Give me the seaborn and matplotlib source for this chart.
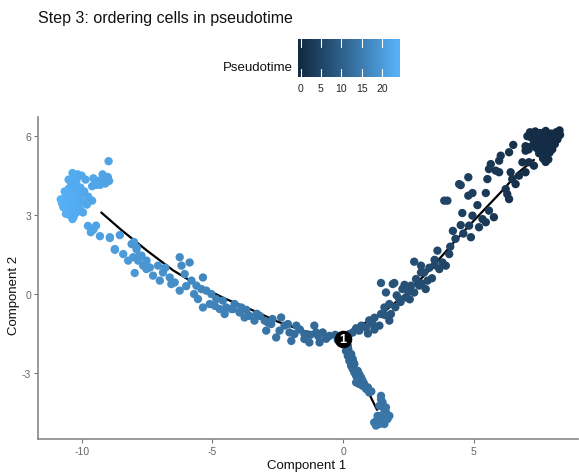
import numpy as np
import pandas as pd
import matplotlib
matplotlib.use("Agg")
import matplotlib.pyplot as plt
import seaborn as sns
from matplotlib.colors import LinearSegmentedColormap, Normalize

# ---------------- data (x, y, pseudotime) ----------------
root_cells = [
    (7.15, 6.15, 0.6), (7.35, 6.18, 0.4), (7.55, 6.12, 0.3), (7.75, 6.2, 0.2), (7.95, 6.1, 0.1),
    (8.15, 6.15, 0.0), (8.3, 6.05, 0.0), (7.2, 5.95, 0.6), (7.4, 5.9, 0.5), (7.6, 5.98, 0.3),
    (7.8, 5.92, 0.2), (8.0, 5.95, 0.1), (8.2, 5.88, 0.0), (7.3, 5.75, 0.6), (7.5, 5.7, 0.5),
    (7.7, 5.78, 0.3), (7.9, 5.72, 0.2), (8.1, 5.7, 0.1), (7.4, 5.55, 0.6), (7.6, 5.5, 0.5),
    (7.8, 5.58, 0.4), (8.0, 5.5, 0.3), (7.5, 5.35, 0.7), (7.7, 5.3, 0.6), (7.9, 5.38, 0.5),
    (7.65, 5.15, 0.8), (7.85, 5.12, 0.7), (7.75, 5.02, 0.9), (7.05, 6.0, 0.8), (6.98, 5.62, 1.1),
    (7.1, 5.5, 1.0), (8.28, 6.22, 0.0), (7.45, 6.05, 0.4), (7.65, 5.88, 0.3), (7.85, 5.8, 0.2),
    (8.05, 6.02, 0.1), (7.55, 5.62, 0.5), (7.75, 5.45, 0.5), (7.3, 6.08, 0.5), (7.95, 5.6, 0.3),
    (7.11, 5.58, 0.9), (6.98, 5.45, 1.0), (6.86, 5.01, 1.3), (7.11, 5.01, 1.1), (7.3, 4.88, 1.0),
]

right_branch_cells = [
    (6.51, 5.67, 1.4), (6.35, 5.39, 1.6), (6.03, 5.26, 2.0), (5.97, 5.07, 2.1), (5.65, 4.94, 2.6),
    (5.58, 4.75, 2.7), (5.84, 4.69, 2.3), (5.97, 4.63, 2.1), (5.52, 4.37, 2.8), (4.5, 4.14, 4.2),
    (4.79, 4.44, 3.8), (3.87, 3.55, 5.1), (3.99, 3.55, 4.9), (4.79, 3.74, 3.8), (4.95, 3.84, 3.6),
    (5.46, 3.84, 2.9), (5.14, 3.38, 3.3), (4.56, 3.08, 4.1), (4.95, 2.98, 3.6), (5.58, 3.17, 2.7),
    (5.77, 2.92, 2.4), (5.33, 2.85, 3.0), (4.5, 2.62, 4.2), (4.82, 2.6, 3.8), (5.2, 2.54, 3.2),
    (5.46, 2.73, 2.9), (4.89, 2.16, 3.7), (3.61, 1.65, 5.4), (4.06, 1.52, 4.8), (6.28, 3.8, 1.7),
    (6.35, 3.61, 1.6), (6.22, 3.99, 1.8), (6.6, 4.18, 1.3), (6.73, 4.5, 1.1), (6.98, 4.63, 0.7),
    (6.41, 4.63, 1.5), (6.47, 4.37, 1.4), (4.44, 4.18, 4.3), (2.72, 1.23, 6.7), (2.98, 1.08, 6.3),
    (3.1, 0.82, 6.2), (3.68, 0.95, 5.3), (3.8, 1.2, 5.2), (3.93, 1.08, 5.0), (3.16, 0.19, 6.1),
    (2.91, 0.32, 6.4), (2.72, 0.06, 6.7), (1.45, 0.42, 8.5), (1.96, 0.42, 7.8), (1.64, 0.06, 8.2),
    (2.15, -0.19, 7.5), (2.4, -0.13, 7.1), (1.77, -0.38, 8.0), (1.58, -0.51, 8.3), (1.45, -0.76, 8.5),
    (1.83, -0.76, 7.9), (1.77, -1.01, 8.0), (1.39, -1.2, 8.6), (1.13, -1.14, 8.9), (0.88, -1.27, 9.3),
    (0.62, -1.39, 9.6), (0.37, -1.46, 10.0), (0.24, -1.52, 10.2), (2.27, 0.19, 7.3), (2.6, 0.32, 6.9),
    (2.79, 0.57, 6.6), (3.23, 0.51, 6.0), (2.98, 0.82, 6.3), (1.0, -1.0, 9.1), (1.2, -0.9, 8.8),
    (2.0, -0.5, 7.7), (2.2, -0.3, 7.4), (2.5, 0.1, 7.0), (2.55, -0.2, 7.0), (3.0, 0.4, 6.3),
    (3.4, 0.6, 5.7), (3.5, 1.1, 5.6), (3.3, 1.0, 5.9), (4.1, 1.8, 4.8), (4.3, 2.1, 4.5),
    (4.2, 2.4, 4.6), (4.6, 2.3, 4.0), (3.5, 1.3, 5.6), (0.7, -1.2, 9.5), (0.5, -1.3, 9.8),
    (1.6, -0.8, 8.3), (2.05, -0.05, 7.6), (2.35, 0.35, 7.2), (0.95, -1.5, 9.2), (1.2, -1.35, 8.9),
    (1.9, 0.38, 7.8),
]

left_branch_cells = [
    (-8.92, 2.16, 20.7), (-8.54, 2.24, 20.2), (-8.73, 1.68, 20.5), (-8.41, 1.52, 20.1), (-8.09, 1.9, 19.7),
    (-7.9, 1.78, 19.5), (-8.03, 1.4, 19.7), (-8.22, 1.27, 19.9), (-7.71, 1.46, 19.3), (-7.52, 1.27, 19.1),
    (-7.84, 1.27, 19.4), (-7.39, 1.01, 18.9), (-7.97, 0.8, 19.6), (-7.27, 0.7, 18.8), (-7.08, 1.08, 18.6),
    (-7.01, 0.51, 18.5), (-6.89, 0.82, 18.4), (-6.63, 0.63, 18.1), (-6.44, 0.44, 17.8), (-6.25, 1.4, 17.6),
    (-6.18, 1.08, 17.5), (-5.87, 1.2, 17.2), (-6.25, 0.13, 17.6), (-6.06, 0.76, 17.4), (-5.8, 0.51, 17.1),
    (-5.61, 0.32, 16.9), (-5.36, 0.63, 16.6), (-5.42, 0.19, 16.7), (-5.23, 0.13, 16.5), (-5.55, -0.19, 16.8),
    (-5.36, -0.51, 16.6), (-5.04, 0.0, 16.2), (-4.85, -0.19, 16.0), (-5.1, -0.38, 16.3), (-4.6, -0.25, 15.7),
    (-4.47, -0.51, 15.6), (-4.72, -0.57, 15.9), (-4.53, -0.76, 15.7), (-4.27, -0.57, 15.4), (-4.15, -0.38, 15.2),
    (-7.52, 0.95, 19.1), (-7.65, 1.08, 19.2), (-6.57, 0.38, 18.0), (-4.21, -0.57, 15.3), (-3.96, -0.7, 15.0),
    (-3.77, -0.89, 14.8), (-3.58, -0.83, 14.6), (-3.39, -1.01, 14.4), (-3.19, -0.83, 14.1), (-3.0, -1.01, 13.9),
    (-2.88, -1.08, 13.8), (-2.94, -1.39, 13.9), (-3.89, -0.51, 14.9), (-2.37, -0.89, 13.2), (-2.43, -1.39, 13.3),
    (-2.24, -1.2, 13.1), (-2.05, -1.46, 12.8), (-2.11, -1.14, 12.9), (-1.98, -1.78, 12.8), (-1.79, -1.2, 12.5),
    (-1.86, -1.52, 12.6), (-1.48, -1.52, 12.2), (-1.29, -1.84, 12.0), (-1.1, -1.2, 11.8), (-1.03, -1.46, 11.7),
    (-0.9, -1.84, 11.5), (-0.78, -1.46, 11.4), (-0.52, -1.59, 11.1), (-2.75, -1.14, 13.6), (-2.56, -1.65, 13.4),
    (-1.48, -1.71, 12.2), (-0.3, -1.55, 10.8), (-0.2, -1.75, 10.7), (-0.65, -1.7, 11.2),
    (-9.76, 2.59, 21.6), (-9.55, 2.45, 21.4), (-9.3, 2.2, 21.1), (-9.45, 2.6, 21.3), (-9.65, 2.35, 21.5),
    (-8.92, 2.13, 20.7), (-8.73, 1.71, 20.5), (-8.0, 1.98, 19.6), (-7.8, 1.44, 19.4), (-7.9, 1.7, 19.5),
    (-6.8, 1.0, 18.3), (-6.0, 0.3, 17.3), (-5.7, 0.0, 17.0), (-4.9, -0.45, 16.1), (-3.7, -0.6, 14.7),
    (-3.3, -0.75, 14.3), (-2.7, -0.95, 13.6), (-1.65, -1.35, 12.4), (-1.25, -1.55, 11.9), (-0.95, -1.6, 11.6),
]

end_cluster_cells = [
    (-10.7, 3.6, 23.6), (-10.6, 3.8, 23.4), (-10.5, 4.0, 23.2), (-10.4, 4.2, 22.9), (-10.3, 4.45, 22.7),
    (-10.15, 4.55, 22.5), (-10.0, 4.5, 22.3), (-9.85, 4.35, 22.1), (-10.2, 4.3, 22.6), (-10.75, 3.45, 23.8),
    (-10.6, 3.4, 23.5), (-10.45, 3.5, 23.3), (-10.3, 3.6, 23.1), (-10.15, 3.7, 22.9), (-10.0, 3.8, 22.6),
    (-10.55, 3.2, 23.4), (-10.4, 3.25, 23.2), (-10.25, 3.3, 23.0), (-10.1, 3.4, 22.8), (-9.95, 3.5, 22.5),
    (-10.45, 3.0, 23.1), (-10.3, 2.95, 22.9), (-10.2, 3.1, 22.8), (-10.35, 2.85, 22.9), (-10.05, 3.2, 22.6),
    (-10.65, 3.9, 23.5), (-10.5, 3.7, 23.3), (-10.35, 3.85, 23.0), (-10.2, 3.95, 22.8), (-10.05, 4.05, 22.6),
    (-10.7, 3.3, 23.6), (-10.4, 3.4, 23.2), (-10.5, 4.35, 23.0), (-10.35, 4.6, 22.9), (-9.9, 3.9, 22.3),
    (-9.75, 3.7, 22.1), (-9.6, 3.55, 21.9), (-9.8, 3.4, 22.1), (-9.95, 3.1, 22.3), (-10.6, 3.05, 23.3),
    (-10.25, 4.1, 22.7), (-10.8, 3.6, 23.8),
    (-9.55, 4.4, 21.9), (-9.35, 4.3, 21.7), (-9.2, 4.4, 21.6), (-9.0, 4.45, 21.4), (-9.3, 4.15, 21.7),
    (-9.1, 4.2, 21.5), (-9.45, 4.15, 21.8), (-8.95, 4.3, 21.4), (-9.6, 4.1, 21.9), (-8.97, 5.05, 21.5),
    (-9.2, 4.55, 21.6),
]

down_branch_cells = [
    (0.11, -2.16, 11.0), (0.18, -2.35, 11.2), (0.24, -2.54, 11.4), (0.31, -2.73, 11.6), (0.37, -2.85, 11.8),
    (0.43, -2.98, 11.9), (0.5, -3.11, 12.1), (0.56, -3.23, 12.2), (0.5, -3.36, 12.4), (0.62, -3.42, 12.5),
    (0.75, -3.49, 12.6), (0.88, -3.61, 12.7), (1.0, -3.74, 12.9), (0.37, -2.47, 11.4), (0.31, -2.28, 11.2),
    (0.43, -2.66, 11.6), (0.56, -2.92, 11.9), (0.69, -3.17, 12.2), (0.75, -3.3, 12.4), (0.18, -1.97, 10.8),
    (1.45, -3.87, 13.2), (1.51, -4.12, 13.4), (1.58, -4.37, 13.7), (1.64, -4.5, 13.8), (1.32, -4.63, 14.0),
    (1.19, -4.88, 14.2), (1.39, -4.94, 14.3), (1.58, -4.94, 14.3), (1.7, -4.75, 14.1), (1.77, -4.63, 14.0),
    (1.45, -4.75, 14.1), (1.26, -5.0, 14.4), (1.64, -4.31, 13.6), (1.39, -4.25, 13.6), (1.5, -4.6, 14.0),
    (1.3, -4.8, 14.1), (1.6, -4.8, 14.2), (1.45, -4.0, 13.3), (0.08, -1.9, 10.7), (0.2, -2.1, 10.9),
    (0.28, -2.4, 11.3), (0.4, -2.6, 11.5), (0.62, -3.05, 12.0), (0.8, -3.4, 12.5), (0.95, -3.55, 12.7),
    (1.08, -3.7, 12.9),
]

# trajectory (principal graph) segments
traj_left_x = [0.0, -0.5, -1.5, -2.5, -3.5, -4.5, -5.5, -6.5, -7.5, -8.5, -9.25]
traj_left_y = [-1.71, -1.6, -1.4, -1.05, -0.6, -0.18, 0.3, 0.9, 1.65, 2.45, 3.1]
traj_right_x = [0.0, 0.37, 1.39, 2.4, 3.29, 4.18, 4.82, 6.09, 6.73, 7.3]
traj_right_y = [-1.71, -1.33, -0.82, 0.0, 0.89, 1.9, 2.6, 3.93, 4.64, 5.1]
traj_down_x = [0.0, 0.5, 1.0, 1.3]
traj_down_y = [-1.71, -2.8, -3.8, -4.4]

branch_x = [0.0]
branch_y = [-1.71]
branch_label = ["1"]

pt_ticks = [0, 5, 10, 15, 20]
pt_max = 23.8

# ---------------- build tables ----------------
cells = pd.DataFrame(
    root_cells + right_branch_cells + left_branch_cells + end_cluster_cells + down_branch_cells,
    columns=["x", "y", "Pseudotime"],
)
traj = pd.concat([
    pd.DataFrame({"x": traj_left_x, "y": traj_left_y, "seg": "left"}),
    pd.DataFrame({"x": traj_right_x, "y": traj_right_y, "seg": "right"}),
    pd.DataFrame({"x": traj_down_x, "y": traj_down_y, "seg": "down"}),
], ignore_index=True)

cmap = LinearSegmentedColormap.from_list("gg", ["#132B43", "#336A98", "#56B1F7"])
norm = Normalize(0, pt_max)

sns.set_theme(style="white")
plt.rcParams["font.family"] = ["Liberation Sans", "DejaVu Sans"]
plt.rcParams["axes.unicode_minus"] = False

W, H = 579, 477
fig = plt.figure(figsize=(W / 100, H / 100), dpi=100)
ax_w = 1 - 38 / W - 0.002
ax_h = (440 - 118) / H
ax = fig.add_axes([38 / W, 1 - 440 / H, ax_w, ax_h])

sns.lineplot(data=traj, x="x", y="y", units="seg", estimator=None, sort=False,
             color="black", linewidth=1.6, ax=ax, zorder=2, legend=False)
sns.scatterplot(data=cells, x="x", y="y", hue="Pseudotime", palette=cmap, hue_norm=norm,
                s=36, linewidth=0, legend=False, ax=ax, zorder=3)
ax.scatter(branch_x, branch_y, s=160, color="black", zorder=5, linewidths=0)
for bx, by, bl in zip(branch_x, branch_y, branch_label):
    ax.text(bx, by, bl, color="white", fontsize=9, fontweight="bold",
            ha="center", va="center", zorder=6)

ax.set_xlim(-11.67, 8.98)
ax.set_ylim(-5.51, 6.73)
ax.set_xticks([-10, -5, 0, 5])
ax.set_yticks([-3, 0, 3, 6])
ax.set_xlabel("Component 1", fontsize=9.5, color="#111111")
ax.set_ylabel("Component 2", fontsize=9.5, color="#111111")
ax.xaxis.set_label_coords((307 - 38) / (ax_w * W), -(460 - 440) / (ax_h * H))
ax.yaxis.set_label_coords(-(38 - 20) / (ax_w * W), (440 - 295) / (ax_h * H))
ax.tick_params(axis="both", which="both", direction="out", length=3, width=0.8,
               color="#777777", labelsize=7.5, labelcolor="#666666", pad=2,
               bottom=True, left=True)
for side in ["top", "right"]:
    ax.spines[side].set_visible(False)
for side in ["left", "bottom"]:
    ax.spines[side].set_color("#888888")
    ax.spines[side].set_linewidth(1.2)
ax.grid(False)

# title
fig.text(38 / W, 1 - 18 / H, "Step 3: ordering cells in pseudotime",
         fontsize=11.5, ha="left", va="center", color="#111111")

# colorbar
cax = fig.add_axes([298 / W, 1 - 78 / H, 102 / W, 38 / H])
lo, hi = -0.63, 24.43
grad = np.linspace(lo, hi, 256).reshape(1, -1)
cax.imshow(grad, extent=[lo, hi, 0, 1], aspect="auto", cmap=cmap, norm=norm)
cax.set_xlim(lo, hi)
cax.set_ylim(0, 1)
for t in pt_ticks:
    cax.plot([t, t], [0, 0.2], color="white", linewidth=0.8)
    cax.plot([t, t], [0.8, 1], color="white", linewidth=0.8)
cax.set_xticks(pt_ticks)
cax.set_xticklabels([str(t) for t in pt_ticks])
cax.set_yticks([])
cax.tick_params(axis="x", length=0, labelsize=7.5, labelcolor="#222222", pad=4)
for s in cax.spines.values():
    s.set_visible(False)
fig.text(293 / W, 1 - 68 / H, "Pseudotime", fontsize=9.5, ha="right", va="center", color="#111111")

fig.savefig("out.png", dpi=100)
